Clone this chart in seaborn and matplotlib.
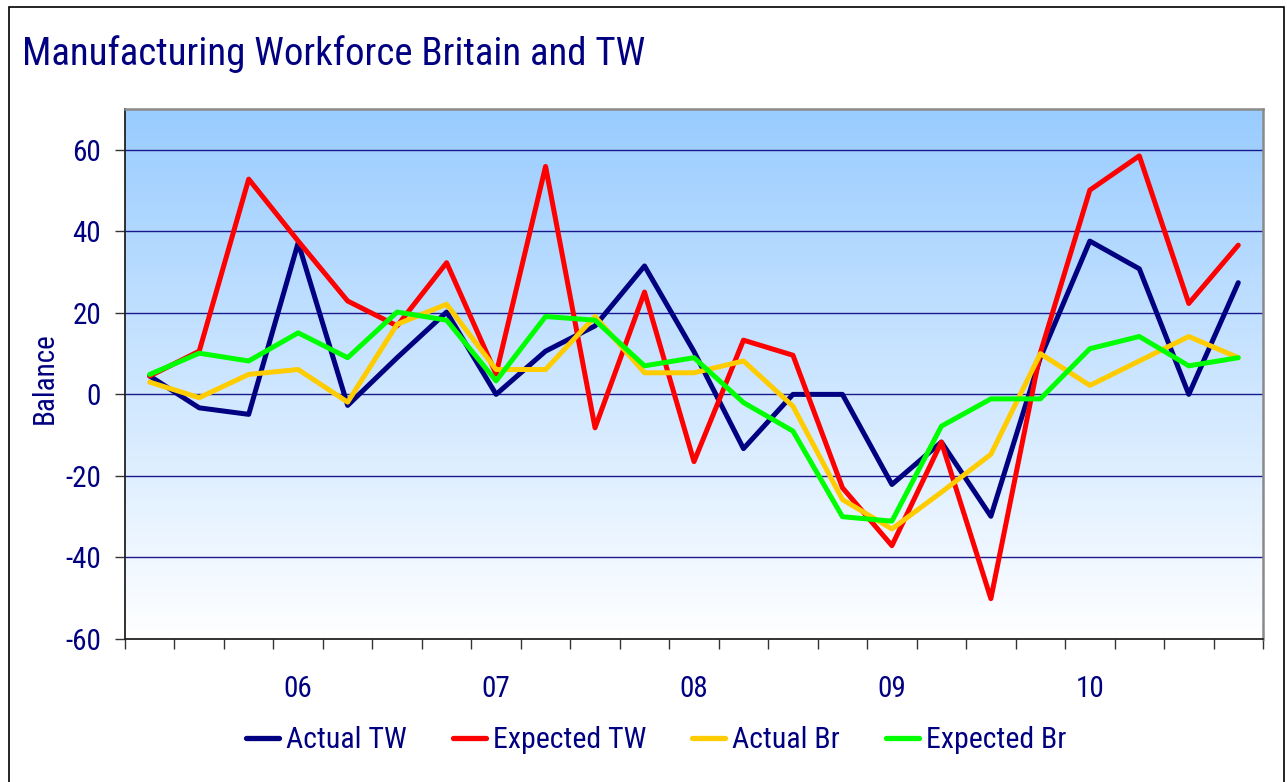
import numpy as np
import pandas as pd
import matplotlib
matplotlib.use("Agg")
import matplotlib.pyplot as plt
from matplotlib import font_manager as fm
from matplotlib.patches import Rectangle
from matplotlib.colors import LinearSegmentedColormap
import seaborn as sns

# ---------------- data ----------------
quarters = ["05Q2", "05Q3", "05Q4",
            "06Q1", "06Q2", "06Q3", "06Q4",
            "07Q1", "07Q2", "07Q3", "07Q4",
            "08Q1", "08Q2", "08Q3", "08Q4",
            "09Q1", "09Q2", "09Q3", "09Q4",
            "10Q1", "10Q2", "10Q3", "10Q4"]
actual_tw = [4.5, -3.3, -4.9, 37.2, -2.7, 9.0, 20.2, 0.0, 10.6, 16.8, 31.5, 10.5,
             -13.3, 0.0, 0.0, -22.1, -11.7, -29.9, 9.0, 37.6, 30.8, 0.0, 27.4]
expected_tw = [4.5, 10.6, 52.8, 37.6, 22.9, 16.8, 32.3, 5.0, 55.9, -8.2, 25.1, -16.5,
               13.3, 9.6, -22.9, -37.1, -11.7, -50.1, 10.2, 50.1, 58.5, 22.3, 36.6]
actual_br = [3.0, -0.8, 4.9, 6.1, -1.9, 17.2, 22.1, 6.1, 6.1, 19.1, 5.3, 5.3,
             8.2, -2.9, -25.8, -33.0, -24.0, -14.7, 10.0, 2.2, 8.2, 14.2, 9.0]
expected_br = [4.9, 10.1, 8.2, 15.1, 9.0, 20.2, 18.2, 3.3, 19.1, 18.2, 7.0, 9.0,
               -2.0, -9.0, -30.0, -31.1, -7.8, -1.1, -1.1, 11.2, 14.2, 7.0, 9.0]
series_names = ["Actual TW", "Expected TW", "Actual Br", "Expected Br"]
series_colors = ["#000080", "#FF0000", "#FFCC00", "#00FF00"]
year_labels = ["06", "07", "08", "09", "10"]
year_positions = [3, 7, 11, 15, 19]
y_ticks = [-60, -40, -20, 0, 20, 40, 60]

title = "Manufacturing Workforce Britain and TW"
y_label = "Balance"

# ---------------- build frame ----------------
n = len(quarters)
df = pd.DataFrame({
    "idx": np.tile(np.arange(n), 4),
    "value": actual_tw + expected_tw + actual_br + expected_br,
    "series": np.repeat(series_names, n),
})

# ---------------- style ----------------
sns.set_style("white")

# look for a narrow / condensed sans font; otherwise shrink regular sizes
installed = {f.name for f in fm.fontManager.ttflist}
narrow = None
for cand in ["Liberation Sans Narrow", "Arial Narrow", "Roboto Condensed",
             "Open Sans Condensed", "DejaVu Sans Condensed", "Noto Sans Condensed"]:
    if cand in installed:
        narrow = cand
        break
if narrow is not None:
    FAM = [narrow, "Liberation Sans", "DejaVu Sans"]
    k = 1.0
    title_fs = 28
else:
    FAM = ["Liberation Sans", "DejaVu Sans"]
    k = 0.88
    title_fs = 25
plt.rcParams["font.family"] = FAM
NAVY = "#000080"

W, H = 1287, 782
fig = plt.figure(figsize=(W / 100, H / 100), dpi=100)
fig.patch.set_facecolor("white")

ax_l, ax_r, ax_t, ax_b = 125, 1263, 109, 639
ax = fig.add_axes([ax_l / W, 1 - ax_b / H, (ax_r - ax_l) / W, (ax_b - ax_t) / H])

# gradient background
cmap = LinearSegmentedColormap.from_list("bg", ["#FFFFFF", "#99CCFF"])
grad = np.linspace(0, 1, 256).reshape(-1, 1)
ax.imshow(grad, cmap=cmap, origin="lower", aspect="auto",
          extent=(-0.5, n - 0.5, -60, 70), zorder=0)

# gridlines
for yv in [-40, -20, 0, 20, 40, 60]:
    ax.axhline(yv, color="#1a1a8c", lw=1.0, zorder=1)

sns.lineplot(data=df, x="idx", y="value", hue="series", hue_order=series_names,
             palette=series_colors, linewidth=3.6, ax=ax, legend=True, zorder=3)

handles, labels = ax.get_legend_handles_labels()
if ax.get_legend() is not None:
    ax.get_legend().remove()

ax.set_xlim(-0.5, n - 0.5)
ax.set_ylim(-60, 70)
ax.set_xlabel("")
ax.set_ylabel("")

# x ticks: boundaries (major, unlabeled), years (minor, labeled)
ax.set_xticks(np.arange(-0.5, n, 1.0))
ax.set_xticklabels([])
ax.set_xticks(year_positions, minor=True)
ax.set_xticklabels(year_labels, minor=True)
ax.tick_params(axis="x", which="major", direction="out", length=7.2, width=1.0,
               color="#333333", bottom=True)
ax.tick_params(axis="x", which="minor", length=0, pad=26, labelsize=21,
               labelcolor=NAVY, bottom=True)

ax.set_yticks(y_ticks)
ax.set_yticklabels([str(v) for v in y_ticks])
ax.tick_params(axis="y", direction="out", length=7.2, width=1.0, color="#333333",
               pad=10, labelsize=21, labelcolor=NAVY, left=True)

for side in ["left", "bottom"]:
    ax.spines[side].set_color("#222222")
    ax.spines[side].set_linewidth(1.3)
for side in ["top", "right"]:
    ax.spines[side].set_color("#8a8a8a")
    ax.spines[side].set_linewidth(1.8)
    ax.spines[side].set_visible(True)
ax.grid(False)

# title and y label
fig.text(22 / W, 1 - 65 / H, title, fontsize=title_fs,
         color=NAVY, ha="left", va="baseline", family=FAM)
fig.text(45 / W, 1 - 378 / H, y_label, fontsize=21, color=NAVY, rotation=90,
         ha="center", va="center", family=FAM)

# legend
leg_fs = 21.5 * k
px = leg_fs * 100 / 72
leg = fig.legend(handles, labels, loc="center", ncol=4, frameon=False,
                 bbox_to_anchor=(656 / W, 1 - 740 / H), fontsize=leg_fs,
                 handlelength=33 / px, handletextpad=7 / px, columnspacing=46 / px,
                 borderaxespad=0)
for t in leg.get_texts():
    t.set_color(NAVY)
for line in leg.get_lines():
    line.set_linewidth(3.8)
    line.set_solid_capstyle("round")

# outer frame
fig.patches.append(Rectangle((9 / W, -0.05), (1284 - 9) / W, 1 - 7 / H + 0.05,
                             transform=fig.transFigure, fill=False,
                             edgecolor="black", lw=1.2, zorder=10))

fig.savefig("out.png", dpi=100)
